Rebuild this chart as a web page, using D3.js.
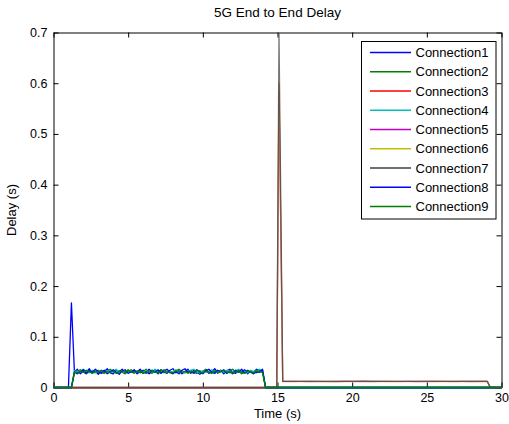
<!DOCTYPE html>
<html>
<head>
<meta charset="utf-8">
<script src="https://cdn.jsdelivr.net/npm/d3@7"></script>
<style>
  body { margin: 0; background: #fff; }
  svg { display: block; }
  text { font-family: "Liberation Sans", Arial, Helvetica, sans-serif; font-size: 13px; fill: #000; }
</style>
</head>
<body>
<svg id="chart" width="509" height="424"></svg>
<script>
// ---- Data -------------------------------------------------------------
const seriesNames = ["Connection1", "Connection2", "Connection3", "Connection4", "Connection5",
                     "Connection6", "Connection7", "Connection8", "Connection9"];

// First group of connections: active from about 1 s to 14 s
const phase1Times = [0, 1.0, 1.2,
  1.4, 1.6, 1.8, 2.0, 2.2, 2.4, 2.6, 2.8, 3.0, 3.2,
  3.4, 3.6, 3.8, 4.0, 4.2, 4.4, 4.6, 4.8, 5.0, 5.2,
  5.4, 5.6, 5.8, 6.0, 6.2, 6.4, 6.6, 6.8, 7.0, 7.2,
  7.4, 7.6, 7.8, 8.0, 8.2, 8.4, 8.6, 8.8, 9.0, 9.2,
  9.4, 9.6, 9.8, 10.0, 10.2, 10.4, 10.6, 10.8, 11.0, 11.2,
  11.4, 11.6, 11.8, 12.0, 12.2, 12.4, 12.6, 12.8, 13.0, 13.2,
  13.4, 13.6, 13.8, 14.0,
  14.2, 30];

const connection1 = [0, 0, 0.167,
  0.031,0.036,0.027,0.033,0.030,0.037,0.028,0.032,0.026,0.034,
  0.031,0.037,0.029,0.027,0.034,0.031,0.036,0.028,0.033,0.030,
  0.035,0.027,0.031,0.034,0.028,0.036,0.030,0.033,0.027,0.035,
  0.031,0.028,0.034,0.037,0.029,0.033,0.027,0.031,0.036,0.028,
  0.034,0.030,0.026,0.032,0.035,0.028,0.031,0.037,0.029,0.034,
  0.027,0.033,0.036,0.030,0.028,0.034,0.031,0.035,0.027,0.033,
  0.030,0.036,0.034,0.031,
  0, 0];

const connection2 = [0, 0, 0,
  0.029,0.032,0.035,0.030,0.027,0.033,0.031,0.029,0.034,0.030,
  0.028,0.032,0.036,0.031,0.029,0.033,0.030,0.027,0.032,0.035,
  0.030,0.033,0.029,0.031,0.036,0.030,0.028,0.033,0.031,0.035,
  0.029,0.032,0.030,0.027,0.033,0.036,0.031,0.029,0.032,0.034,
  0.030,0.028,0.033,0.031,0.036,0.030,0.029,0.032,0.028,0.034,
  0.031,0.029,0.033,0.036,0.030,0.032,0.027,0.031,0.034,0.030,
  0.032,0.029,0.034,0.032,
  0, 0];

const connection4 = [0, 0, 0,
  0.033,0.030,0.032,0.036,0.031,0.029,0.034,0.030,0.032,0.028,
  0.033,0.030,0.034,0.031,0.036,0.029,0.032,0.030,0.034,0.031,
  0.028,0.032,0.035,0.030,0.033,0.029,0.031,0.036,0.030,0.028,
  0.033,0.031,0.029,0.032,0.035,0.030,0.033,0.029,0.031,0.034,
  0.036,0.031,0.029,0.033,0.030,0.032,0.035,0.029,0.031,0.033,
  0.030,0.034,0.029,0.031,0.033,0.036,0.030,0.032,0.029,0.034,
  0.031,0.033,0.036,0.033,
  0, 0];

const connection8 = [0, 0, 0,
  0.030,0.027,0.031,0.035,0.028,0.033,0.030,0.036,0.031,0.028,
  0.034,0.027,0.031,0.035,0.030,0.026,0.033,0.035,0.028,0.031,
  0.034,0.030,0.036,0.028,0.031,0.027,0.034,0.030,0.035,0.028,
  0.033,0.036,0.030,0.028,0.031,0.027,0.034,0.037,0.030,0.031,
  0.028,0.035,0.031,0.027,0.033,0.036,0.030,0.028,0.034,0.031,
  0.035,0.028,0.031,0.027,0.034,0.030,0.036,0.028,0.033,0.030,
  0.027,0.031,0.030,0.036,
  0, 0];

const connection9 = [0, 0, 0,
  0.031,0.029,0.032,0.030,0.034,0.031,0.028,0.032,0.030,0.033,
  0.029,0.031,0.030,0.032,0.028,0.031,0.033,0.030,0.035,0.031,
  0.029,0.031,0.033,0.028,0.031,0.030,0.034,0.031,0.029,0.032,
  0.035,0.030,0.031,0.029,0.033,0.031,0.030,0.032,0.028,0.031,
  0.031,0.034,0.030,0.029,0.032,0.031,0.028,0.033,0.030,0.031,
  0.034,0.030,0.031,0.029,0.031,0.033,0.030,0.028,0.032,0.031,
  0.029,0.033,0.031,0.030,
  0, 0];

// Second group of connections: burst at 15 s, then steady until about 29 s
const phase2Times = [0, 14.95, 15.1,
  15.35, 15.95, 16.55, 17.15, 17.75, 18.35, 18.95, 19.55, 20.15, 20.75, 21.35, 21.95,
  22.55, 23.15, 23.75, 24.35, 24.95, 25.55, 26.15, 26.75, 27.35, 27.95, 28.55, 29.05,
  29.25, 30];

const connection3 = [0, 0, 0.600,
  0.0120,0.0118,0.0122,0.0119,0.0121,0.0117,0.0120,0.0123,0.0118,0.0121,0.0119,0.0122,
  0.0120,0.0117,0.0121,0.0119,0.0122,0.0118,0.0120,0.0121,0.0119,0.0122,0.0118,0.0120,
  0, 0];

const connection5 = [0, 0, 0.585,
  0.0118,0.0121,0.0119,0.0122,0.0117,0.0120,0.0123,0.0119,0.0121,0.0118,0.0122,0.0119,
  0.0117,0.0121,0.0120,0.0123,0.0118,0.0121,0.0119,0.0117,0.0122,0.0120,0.0121,0.0119,
  0, 0];

const connection6 = [0, 0, 0.595,
  0.0122,0.0119,0.0117,0.0121,0.0123,0.0118,0.0120,0.0117,0.0122,0.0119,0.0121,0.0118,
  0.0123,0.0120,0.0117,0.0122,0.0120,0.0123,0.0117,0.0122,0.0118,0.0120,0.0123,0.0121,
  0, 0];

const connection7 = [0, 0, 0.697,
  0.0119,0.0122,0.0120,0.0118,0.0122,0.0121,0.0117,0.0121,0.0119,0.0123,0.0118,0.0120,
  0.0121,0.0122,0.0119,0.0117,0.0121,0.0120,0.0122,0.0119,0.0121,0.0118,0.0119,0.0122,
  0, 0];

const xTicks = [0, 5, 10, 15, 20, 25, 30];
const yTicks = [0, 0.1, 0.2, 0.3, 0.4, 0.5, 0.6, 0.7];
const yTickLabels = ["0", "0.1", "0.2", "0.3", "0.4", "0.5", "0.6", "0.7"];

// ---- Styles -----------------------------------------------------------
const seriesColors = ["#0000ff", "#008000", "#ff0000", "#00bfbf", "#bf00bf",
                      "#bfbf00", "#404040", "#0000ff", "#008000"];
const seriesOpacity = [1, 1, 0.5, 1, 0.5, 0.5, 0.72, 1, 1];

const series = [
  { times: phase1Times, values: connection1 },
  { times: phase1Times, values: connection2 },
  { times: phase2Times, values: connection3 },
  { times: phase1Times, values: connection4 },
  { times: phase2Times, values: connection5 },
  { times: phase2Times, values: connection6 },
  { times: phase2Times, values: connection7 },
  { times: phase1Times, values: connection8 },
  { times: phase1Times, values: connection9 }
].map((s, i) => ({
  name: seriesNames[i],
  color: seriesColors[i],
  opacity: seriesOpacity[i],
  points: s.times.map((t, k) => [t, s.values[k]])
}));

// ---- Layout -----------------------------------------------------------
const svg = d3.select("#chart");
const plotLeft = 53.5, plotRight = 501.5, plotTop = 32.5, plotBottom = 387.5;

const x = d3.scaleLinear().domain([0, 30]).range([plotLeft, plotRight]);
const y = d3.scaleLinear().domain([0, 0.7]).range([plotBottom, plotTop]);

// Box with inward ticks on all four sides
const axisStyle = g => {
  g.select(".domain").attr("stroke", "#000").attr("stroke-width", 1);
  g.selectAll(".tick line").attr("stroke", "#000").attr("stroke-width", 1);
  g.selectAll("text").attr("fill", "#000").style("font-size", "12.5px")
    .style("font-family", '"Liberation Sans", Arial, Helvetica, sans-serif');
};

svg.append("g").attr("transform", `translate(0,${plotBottom})`)
  .call(d3.axisBottom(x).tickValues(xTicks).tickSizeInner(-5).tickSizeOuter(0).tickPadding(6)
    .tickFormat(d3.format("d")))
  .call(axisStyle);

svg.append("g").attr("transform", `translate(0,${plotTop})`)
  .call(d3.axisTop(x).tickValues(xTicks).tickSizeInner(-5).tickSizeOuter(0).tickFormat(""))
  .call(axisStyle);

svg.append("g").attr("transform", `translate(${plotLeft},0)`)
  .call(d3.axisLeft(y).tickValues(yTicks).tickSizeInner(-5).tickSizeOuter(0).tickPadding(6)
    .tickFormat((d, i) => yTickLabels[i]))
  .call(axisStyle);

svg.append("g").attr("transform", `translate(${plotRight},0)`)
  .call(d3.axisRight(y).tickValues(yTicks).tickSizeInner(-5).tickSizeOuter(0).tickFormat(""))
  .call(axisStyle);

// ---- Lines ------------------------------------------------------------
const line = d3.line().x(d => x(d[0])).y(d => y(d[1]));

svg.append("g").selectAll("path")
  .data(series)
  .join("path")
  .attr("d", d => line(d.points))
  .attr("fill", "none")
  .attr("stroke", d => d.color)
  .attr("stroke-opacity", d => d.opacity)
  .attr("stroke-width", 1.3)
  .attr("stroke-linejoin", "round");

// ---- Titles -----------------------------------------------------------
svg.append("text").attr("x", (plotLeft + plotRight) / 2).attr("y", 16.5)
  .attr("text-anchor", "middle").style("font-size", "13.5px").text("5G End to End Delay");

svg.append("text").attr("x", (plotLeft + plotRight) / 2).attr("y", 418)
  .attr("text-anchor", "middle").text("Time (s)");

svg.append("text")
  .attr("transform", `translate(16,${(plotTop + plotBottom) / 2}) rotate(-90)`)
  .attr("text-anchor", "middle").text("Delay (s)");

// ---- Legend -----------------------------------------------------------
const legend = svg.append("g");
const lgX = 361.5, lgY = 41.5, lgW = 134.5, lgH = 177.5, rowStep = 19.25, firstRow = 52.5;

legend.append("rect")
  .attr("x", lgX).attr("y", lgY).attr("width", lgW).attr("height", lgH)
  .attr("fill", "#fff").attr("stroke", "#000").attr("stroke-width", 1);

const rows = legend.selectAll("g.row").data(series).join("g").attr("class", "row")
  .attr("transform", (d, i) => `translate(0,${firstRow + i * rowStep})`);

rows.append("line")
  .attr("x1", 370).attr("x2", 411).attr("y1", 0).attr("y2", 0)
  .attr("stroke", d => d.color).attr("stroke-width", 1.3);

rows.append("text")
  .attr("x", 415.5).attr("y", 0).attr("dy", "0.35em")
  .text(d => d.name);
</script>
</body>
</html>
